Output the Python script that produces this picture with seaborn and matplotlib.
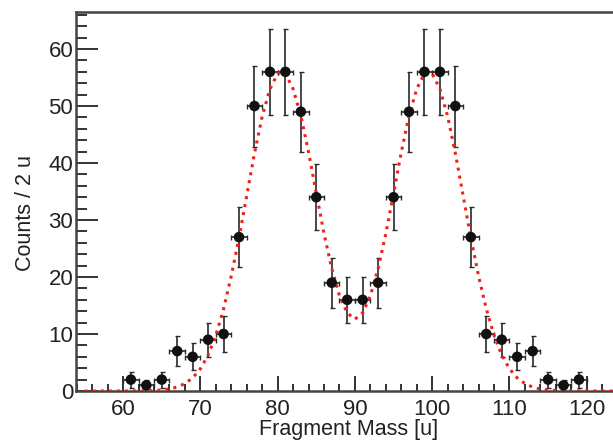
import matplotlib
matplotlib.use('Agg')
import matplotlib.pyplot as plt
from matplotlib.ticker import MultipleLocator
import seaborn as sns
import pandas as pd

# 측정 데이터 (bin 중심, 2 u 간격)
mass = [61, 63, 65, 67, 69, 71, 73, 75, 77, 79, 81, 83, 85, 87, 89,
        91, 93, 95, 97, 99, 101, 103, 105, 107, 109, 111, 113, 115, 117, 119]
counts = [2, 1, 2, 7, 6, 9, 10, 27, 50, 56, 56, 49, 34, 19, 16,
          16, 19, 34, 49, 56, 56, 50, 27, 10, 9, 6, 7, 2, 1, 2]
count_err = [1.4, 1.0, 1.4, 2.6, 2.4, 3.0, 3.2, 5.2, 7.1, 7.5, 7.5, 7.0, 5.8, 4.4, 4.0,
             4.0, 4.4, 5.8, 7.0, 7.5, 7.5, 7.1, 5.2, 3.2, 3.0, 2.4, 2.6, 1.4, 1.0, 1.4]
mass_err = [1.0] * len(mass)

# fit 곡선
fit_x = [55, 56, 58, 60, 62, 63, 64, 65, 66, 67, 68, 69, 70, 71, 72, 73, 74, 75, 76, 77,
         78, 79, 80, 80.5, 81, 82, 83, 84, 85, 86, 87, 88, 89, 90, 91, 92, 93, 94, 95,
         96, 97, 98, 99, 99.5, 100, 101, 102, 103, 104, 105, 106, 107, 108, 109, 110,
         111, 112, 113, 114, 115, 116, 118, 120, 122, 124]
fit_y = [0.0, 0.0, 0.0, 0.0, 0.01, 0.03, 0.08, 0.17, 0.35, 0.7, 1.3, 2.3, 3.9, 6.3, 9.8,
         14.4, 20.2, 26.9, 34.3, 41.7, 48.2, 53.0, 55.7, 56.0, 55.7, 53.0, 48.3, 41.9,
         34.7, 27.6, 21.5, 16.7, 13.7, 12.6, 13.7, 16.7, 21.5, 27.6, 34.7, 41.9, 48.3,
         53.0, 55.7, 56.0, 55.7, 53.0, 48.2, 41.7, 34.3, 26.9, 20.2, 14.4, 9.8, 6.3, 3.9,
         2.3, 1.3, 0.7, 0.35, 0.17, 0.08, 0.01, 0.0, 0.0, 0.0]

sns.set_theme(style='ticks')
plt.rcParams['font.family'] = ['Liberation Sans', 'DejaVu Sans']

fig = plt.figure(figsize=(6.13, 4.41), dpi=100)
ax = fig.add_axes([76 / 613, 50 / 441, 537 / 613, 379 / 441])

fit_df = pd.DataFrame({'x': fit_x, 'y': fit_y})
sns.lineplot(data=fit_df, x='x', y='y', ax=ax, color='#f0201a', linestyle=':',
             linewidth=2.2, zorder=3)

ax.errorbar(mass, counts, xerr=mass_err, yerr=count_err, fmt='none',
            ecolor='#2a2a2a', elinewidth=1.2, capsize=1.8, capthick=1.0, zorder=2)
sns.scatterplot(x=mass, y=counts, ax=ax, color='#111111', s=58,
                edgecolor='none', zorder=4)

ax.set_xlim(53.9, 123.4)
ax.set_ylim(0, 66.5)
ax.xaxis.set_major_locator(MultipleLocator(10))
ax.xaxis.set_minor_locator(MultipleLocator(2))
ax.yaxis.set_major_locator(MultipleLocator(10))
ax.yaxis.set_minor_locator(MultipleLocator(2))

ax.tick_params(axis='y', which='major', direction='in', length=16, width=1.4,
               color='#333333', labelsize=16, pad=2, labelcolor='#222222')
ax.tick_params(axis='y', which='minor', direction='in', length=8, width=1.4,
               color='#333333')
ax.tick_params(axis='x', which='major', direction='in', length=11, width=1.4,
               color='#333333', labelsize=16, pad=6, labelcolor='#222222')
ax.tick_params(axis='x', which='minor', direction='in', length=5, width=1.4,
               color='#333333')

for side in ['left', 'bottom', 'top']:
    ax.spines[side].set_linewidth(1.8)
    ax.spines[side].set_color('#444444')
ax.spines['right'].set_visible(False)

ax.set_xlabel('Fragment Mass [u]', fontsize=15.5, color='#222222')
ax.set_ylabel('Counts / 2 u', fontsize=15.5, color='#222222')
ax.xaxis.set_label_coords((349 - 76) / 537, -(435 - 391) / 379)
ax.xaxis.label.set_va('baseline')
ax.yaxis.set_label_coords(-(76 - 36) / 537, (391 - 213) / 379)

fig.savefig('out.png', dpi=100)
